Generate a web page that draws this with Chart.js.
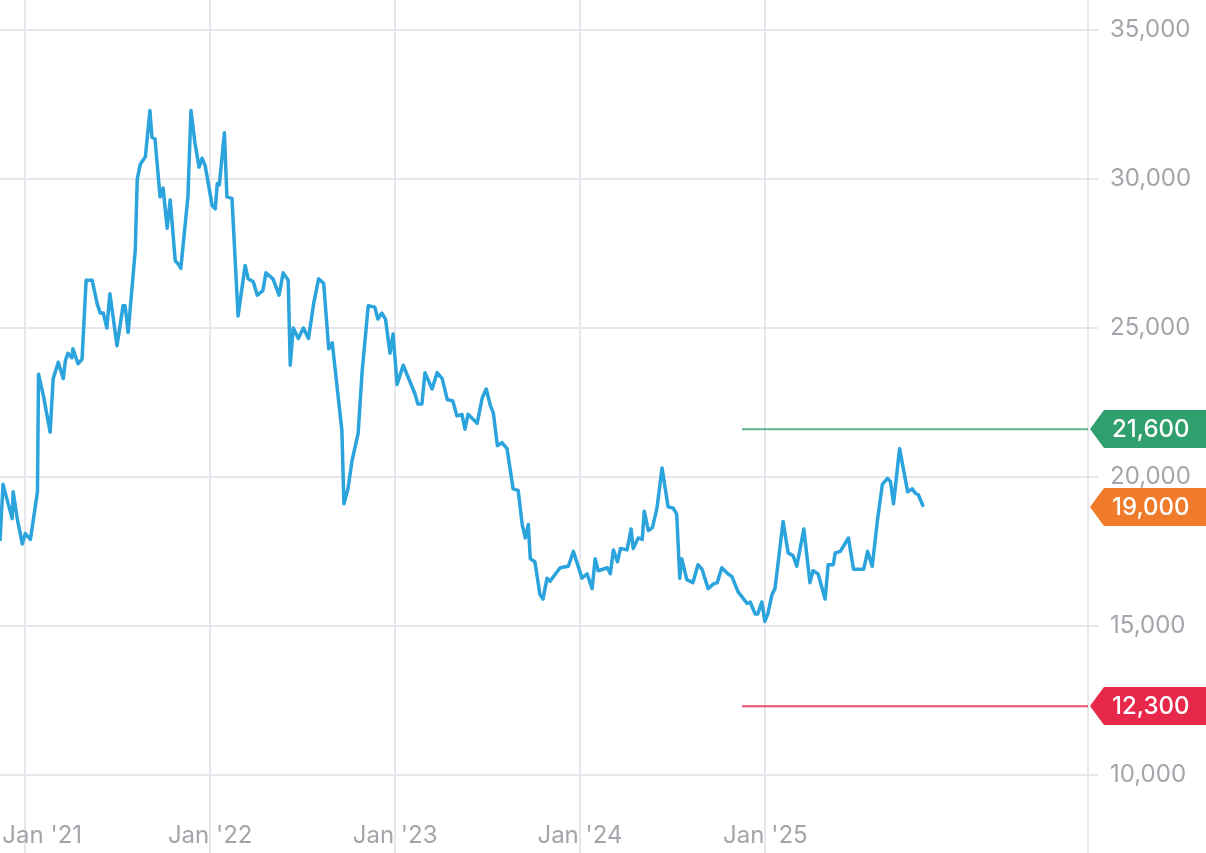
<!DOCTYPE html>
<html>
<head>
<meta charset="utf-8">
<script src="https://cdn.jsdelivr.net/npm/chart.js@4"></script>
<style>
  html, body { margin: 0; padding: 0; background: #fff; }
  #wrap { width: 1206px; height: 853px; }
</style>
</head>
<body>
<div id="wrap"><canvas id="chart01" width="1206" height="853"></canvas></div>
<script>
// price history
var priceDates = [
  '2020-11-12','2020-11-18','2020-12-06','2020-12-08','2020-12-16','2020-12-26','2021-01-01','2021-01-11',
  '2021-01-25','2021-01-27','2021-02-06','2021-02-19','2021-02-25','2021-03-07','2021-03-17','2021-03-21',
  '2021-03-26','2021-04-03','2021-04-05','2021-04-15','2021-04-23','2021-05-01','2021-05-13','2021-05-23',
  '2021-05-29','2021-06-04','2021-06-11','2021-06-17','2021-07-01','2021-07-13','2021-07-17','2021-07-23',
  '2021-08-06','2021-08-10','2021-08-16','2021-08-26','2021-09-04','2021-09-08','2021-09-14','2021-09-24',
  '2021-09-30','2021-10-08','2021-10-14','2021-10-24','2021-10-30','2021-11-04','2021-11-18','2021-11-24',
  '2021-12-02','2021-12-10','2021-12-16','2021-12-22','2022-01-05','2022-01-11','2022-01-15','2022-01-19',
  '2022-01-29','2022-02-03','2022-02-13','2022-02-25','2022-03-11','2022-03-17','2022-03-27','2022-04-04',
  '2022-04-15','2022-04-21','2022-05-05','2022-05-17','2022-05-25','2022-06-04','2022-06-08','2022-06-14',
  '2022-06-24','2022-07-04','2022-07-14','2022-07-24','2022-08-03','2022-08-13','2022-08-23','2022-08-30',
  '2022-09-18','2022-09-22','2022-09-30','2022-10-08','2022-10-20','2022-10-28','2022-11-09','2022-11-22',
  '2022-11-28','2022-12-06','2022-12-13','2022-12-22','2022-12-28','2023-01-05','2023-01-17','2023-02-09',
  '2023-02-15','2023-02-23','2023-03-01','2023-03-15','2023-03-25','2023-04-04','2023-04-14','2023-04-25',
  '2023-05-03','2023-05-13','2023-05-19','2023-05-25','2023-06-12','2023-06-22','2023-06-30','2023-07-08',
  '2023-07-14','2023-07-22','2023-07-31','2023-08-10','2023-08-22','2023-09-01','2023-09-09','2023-09-15',
  '2023-09-21','2023-09-25','2023-10-04','2023-10-14','2023-10-20','2023-10-28','2023-11-03','2023-11-23',
  '2023-12-09','2023-12-19','2024-01-05','2024-01-15','2024-01-25','2024-01-31','2024-02-06','2024-02-24',
  '2024-03-01','2024-03-07','2024-03-15','2024-03-21','2024-04-03','2024-04-11','2024-04-15','2024-04-25',
  '2024-05-03','2024-05-07','2024-05-15','2024-05-23','2024-06-01','2024-06-11','2024-06-23','2024-07-03',
  '2024-07-10','2024-07-16','2024-07-20','2024-07-30','2024-08-11','2024-08-21','2024-08-29','2024-09-10',
  '2024-09-20','2024-09-28','2024-10-07','2024-10-19','2024-10-27','2024-11-08','2024-11-26','2024-12-02',
  '2024-12-12','2024-12-17','2024-12-25','2024-12-31','2025-01-06','2025-01-14','2025-01-20','2025-02-05',
  '2025-02-15','2025-02-25','2025-03-04','2025-03-18','2025-03-30','2025-04-05','2025-04-15','2025-04-29',
  '2025-05-05','2025-05-15','2025-05-19','2025-05-29','2025-06-14','2025-06-24','2025-07-14','2025-07-22',
  '2025-07-31','2025-08-10','2025-08-20','2025-08-30','2025-09-05','2025-09-11','2025-09-23','2025-10-09',
  '2025-10-18','2025-10-24','2025-10-30','2025-11-09'
];
var prices = [
  17850,19750,18600,19500,18600,17750,18100,17900,
  19500,23450,22700,21500,23300,23850,23300,23900,
  24150,24000,24300,23800,23950,26600,26600,25800,
  25500,25500,25000,26150,24400,25750,25750,24850,
  27600,30000,30500,30750,32300,31400,31350,29400,
  29700,28350,29300,27250,27150,27000,29400,32300,
  31200,30400,30700,30450,29100,29000,29850,29800,
  31550,29400,29350,25400,27100,26650,26550,26100,
  26250,26850,26650,26100,26850,26600,23750,25000,
  24650,25000,24650,25800,26650,26500,24300,24500,
  21550,19100,19600,20550,21450,23550,25750,25700,
  25300,25500,25300,24150,24800,23100,23750,22800,
  22450,22450,23500,22950,23500,23300,22600,22550,
  22050,22100,21600,22100,21800,22650,22950,22400,
  22150,21050,21150,20950,19600,19550,18400,17950,
  18400,17250,17150,16050,15900,16600,16500,16950,
  17000,17500,16600,16750,16250,17250,16850,16950,
  16750,17550,17150,17600,17550,18250,17600,17950,
  17900,18850,18200,18300,18950,20300,19000,18950,
  18750,16600,17250,16550,16450,17050,16900,16250,
  16400,16450,16950,16750,16650,16150,15750,15800,
  15400,15400,15800,15150,15400,16050,16250,18500,
  17450,17350,17000,18250,16450,16850,16750,15900,
  17050,17050,17450,17500,17950,16900,16900,17500,
  17000,18500,19750,19950,19850,19100,20950,19500,
  19600,19450,19400,19000
];

// target levels and last price
var levelStart = '2024-11-16';
var tagValues = [21600, 19000, 12300];
var tagColors = ['#2e9f6d', '#f07b2b', '#e8284b'];
var levelLines = [21600, 12300];
var levelColors = ['#5cb98b', '#e8506a'];

// axes
var xRange = ['2020-11-12', '2026-09-30'];
var xTickDates = ['2021-01-01', '2022-01-01', '2023-01-01', '2024-01-01', '2025-01-01'];
var xTickLabels = ["Jan '21", "Jan '22", "Jan '23", "Jan '24", "Jan '25"];
var yRange = [7375, 36010];
var yTicks = [10000, 15000, 20000, 25000, 30000, 35000];

function toMs(s) {
  var p = s.split('-');
  return Date.UTC(+p[0], +p[1] - 1, +p[2]);
}

var gridColor = '#e6e6ec';
var tickColor = '#a4a4ac';
var fontFamily = 'Inter, Roboto, sans-serif';

var datasets = [{
  data: priceDates.map(function(d, i) { return { x: toMs(d), y: prices[i] }; }),
  borderColor: '#2ba3dc',
  borderWidth: 3.5,
  pointRadius: 0,
  tension: 0,
  borderJoinStyle: 'round'
}];
levelLines.forEach(function(v, i) {
  datasets.push({
    data: [{ x: toMs(levelStart), y: v }, { x: toMs(xRange[1]), y: v }],
    borderColor: levelColors[i],
    borderWidth: 2,
    pointRadius: 0
  });
});

// arrow shaped value tags on the right axis
var priceTags = {
  id: 'priceTags',
  afterDraw: function(chart) {
    var c = chart.ctx;
    var ys = chart.scales.y;
    var left = chart.chartArea.right + 2;
    tagValues.forEach(function(v, i) {
      var py = Math.round(ys.getPixelForValue(v));
      c.save();
      c.fillStyle = tagColors[i];
      c.beginPath();
      c.moveTo(left, py);
      c.lineTo(left + 14, py - 19);
      c.lineTo(chart.width, py - 19);
      c.lineTo(chart.width, py + 19);
      c.lineTo(left + 14, py + 19);
      c.closePath();
      c.fill();
      c.fillStyle = '#fff';
      c.font = '500 24px ' + fontFamily;
      c.textBaseline = 'middle';
      c.fillText(v.toLocaleString('en-US'), left + 22, py + 1);
      c.restore();
    });
  }
};

var ctx = document.getElementById('chart01');
var chart = new Chart(ctx, {
  type: 'line',
  data: { datasets: datasets },
  plugins: [priceTags],
  options: {
    responsive: false,
    animation: false,
    layout: { padding: 0 },
    plugins: {
      legend: { display: false },
      tooltip: { enabled: false }
    },
    scales: {
      x: {
        type: 'linear',
        min: toMs(xRange[0]),
        max: toMs(xRange[1]),
        afterBuildTicks: function(s) {
          s.ticks = xTickDates.map(function(d) { return { value: toMs(d) }; });
        },
        afterFit: function(s) {
          s.height = 0;
          s.paddingLeft = 0;
          s.paddingRight = 0;
        },
        border: { display: false },
        grid: { color: gridColor, lineWidth: 2, drawTicks: false },
        ticks: {
          mirror: true,
          padding: 3,
          autoSkip: false,
          maxRotation: 0,
          color: tickColor,
          font: { family: fontFamily, size: 24 },
          // first label is pushed right so it stays inside the frame
          callback: function(v, i) { return i === 0 ? '     ' + xTickLabels[i] : xTickLabels[i]; }
        }
      },
      y: {
        position: 'right',
        min: yRange[0],
        max: yRange[1],
        afterBuildTicks: function(s) {
          s.ticks = yTicks.map(function(v) { return { value: v }; });
        },
        afterFit: function(s) {
          s.width = 118;
          s.paddingTop = 0;
          s.paddingBottom = 0;
        },
        border: { display: true, color: gridColor, width: 2 },
        grid: { color: gridColor, lineWidth: 2, tickLength: 10 },
        ticks: {
          padding: 12,
          color: tickColor,
          font: { family: fontFamily, size: 24 },
          callback: function(v) { return v.toLocaleString('en-US'); }
        }
      }
    }
  }
});
</script>
</body>
</html>
